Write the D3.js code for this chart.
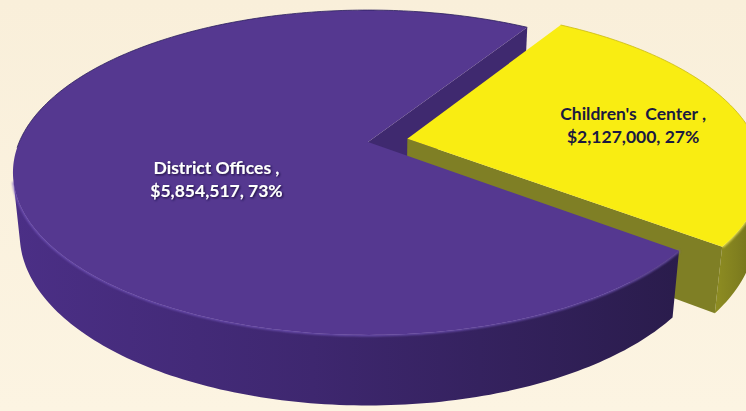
<!DOCTYPE html>
<html>
<head>
<meta charset="utf-8">
<script src="https://cdn.jsdelivr.net/npm/d3@7"></script>
<style>
  html, body { margin: 0; padding: 0; background: #fbf2de; }
  svg { display: block; }
  .lbl { font-family: Lato, "Open Sans", sans-serif; font-weight: 700; font-size: 17.5px; white-space: pre; }
</style>
</head>
<body>
<svg id="chart" width="746" height="411"></svg>
<script>
// ---- data ----
const categories = ["District Offices", "Children's  Center"];
const amounts = [5854517, 2127000];
const exploded = [false, true];

// ---- look ----
const palette = [
  { top: "#553890", sideA: "#4b2f86", sideB: "#2a1c4c", cut: "#3f296f", rim: "#7a5cc2", edge: "#2b1f5c", text: "#ffffff" },
  { top: "#f9ed12", sideA: "#8e8d22", sideB: "#6d6c1a", cut: "#7f7f25", rim: "#fff55e", edge: "#c9b912", text: "#1b1940" }
];
const labelPlacement = [ { r: 0.47, shift: 17.5 }, { r: 0.67, shift: -2 } ];

const W = 746, H = 411;
const svg = d3.select("#chart");

// camera / projection of a flat cylinder (radius 1, thickness `thick`)
const cam = { cx: 368, cy: 142, F: 1660, D: 4.76, elev: 26.7 * Math.PI / 180 };
const thick = 0.2;
const explodeDist = 0.115;
const startRad = -37.9 * Math.PI / 180;
const cosE = Math.cos(cam.elev), sinE = Math.sin(cam.elev);
const eye = [0, -cam.D * cosE, cam.D * sinE];

function project(X, Y, Z) {
  const depth = cam.D + Y * cosE - Z * sinE;
  const up = Y * sinE + Z * cosE;
  return [cam.cx + cam.F * X / depth, cam.cy - cam.F * up / depth];
}

const pie = d3.pie().sort(null).value(d => d);
const arcs = pie(amounts);
const line = d3.line();
const total = d3.sum(amounts);
const fmtMoney = d3.format("$,");
const fmtPct = d3.format(".0%");

// background
const defs = svg.append("defs");
const bg = defs.append("linearGradient").attr("id", "bg").attr("x1", 0).attr("y1", 0).attr("x2", 0).attr("y2", 1);
bg.append("stop").attr("offset", "0%").attr("stop-color", "#f9efda");
bg.append("stop").attr("offset", "100%").attr("stop-color", "#fcf4e2");
svg.append("rect").attr("width", W).attr("height", H).attr("fill", "url(#bg)");

defs.append("filter").attr("id", "soft").attr("x", "-5%").attr("y", "-5%").attr("width", "110%").attr("height", "110%")
  .append("feGaussianBlur").attr("stdDeviation", 1.3);
const sh = defs.append("filter").attr("id", "txtShadow").attr("x", "-10%").attr("y", "-30%").attr("width", "120%").attr("height", "160%");
sh.append("feDropShadow").attr("dx", 1).attr("dy", 1).attr("stdDeviation", 0.9).attr("flood-color", "#120a30").attr("flood-opacity", 0.95);

// build geometry for every slice
const slices = arcs.map((a, i) => {
  const tA = startRad - a.startAngle;   // larger angle end
  const tB = startRad - a.endAngle;     // smaller angle end
  const tm = (tA + tB) / 2;
  const e = exploded[i] ? explodeDist : 0;
  const ox = e * Math.cos(tm), oy = e * Math.sin(tm);
  const n = Math.max(24, Math.round((tA - tB) / (Math.PI * 2) * 360));
  const ts = d3.range(n + 1).map(k => tA + (tB - tA) * k / n);
  const rimTop = ts.map(t => project(ox + Math.cos(t), oy + Math.sin(t), 0));
  const topFace = [project(ox, oy, 0), ...rimTop];

  // outer side: keep only the samples that face the eye
  const visible = ts.filter(t => {
    const px = ox + Math.cos(t), py = oy + Math.sin(t);
    return Math.cos(t) * (eye[0] - px) + Math.sin(t) * (eye[1] - py) > 0;
  });
  let side = null, rimLine = null;
  if (visible.length > 1) {
    const up = visible.map(t => project(ox + Math.cos(t), oy + Math.sin(t), 0));
    const dn = visible.map(t => project(ox + Math.cos(t), oy + Math.sin(t), -thick)).reverse();
    side = up.concat(dn);
    rimLine = up;
  }
  // back part of the rim (outline only)
  const backRim = ts.filter(t => Math.sin(t) > -0.05).map(t => project(ox + Math.cos(t), oy + Math.sin(t), 0));

  // radial cut faces facing the eye
  const cuts = [];
  [[tA, tA + Math.PI / 2], [tB, tB - Math.PI / 2]].forEach(([t, nt]) => {
    const dot = Math.cos(nt) * (eye[0] - ox) + Math.sin(nt) * (eye[1] - oy);
    if (dot > 0) {
      const rx = ox + Math.cos(t), ry = oy + Math.sin(t);
      cuts.push([project(ox, oy, 0), project(rx, ry, 0), project(rx, ry, -thick), project(ox, oy, -thick)]);
    }
  });
  return { i, tm, ox, oy, topFace, side, rimLine, backRim, cuts };
});

// side gradients
slices.forEach(s => {
  if (!s.side) return;
  const xs = s.side.map(p => p[0]);
  const g = defs.append("linearGradient").attr("id", "side" + s.i)
    .attr("gradientUnits", "userSpaceOnUse")
    .attr("x1", d3.min(xs)).attr("y1", 0).attr("x2", d3.max(xs)).attr("y2", 0);
  g.append("stop").attr("offset", "0%").attr("stop-color", palette[s.i].sideA);
  g.append("stop").attr("offset", "45%").attr("stop-color", d3.interpolateRgb(palette[s.i].sideA, palette[s.i].sideB)(0.4));
  g.append("stop").attr("offset", "100%").attr("stop-color", palette[s.i].sideB);
});

const closed = pts => line(pts) + "Z";
const g = svg.append("g");

function drawCuts(s) {
  s.cuts.forEach(c => g.append("path").attr("d", closed(c)).attr("fill", palette[s.i].cut));
}
function drawSide(s) {
  if (!s.side) return;
  g.append("path").attr("d", closed(s.side)).attr("fill", `url(#side${s.i})`);
  g.append("path").attr("d", line(s.rimLine)).attr("fill", "none")
    .attr("stroke", palette[s.i].rim).attr("stroke-width", 2.6).attr("opacity", 0.8).attr("filter", "url(#soft)");
}
function drawTop(s) {
  g.append("path").attr("d", closed(s.topFace)).attr("fill", palette[s.i].top);
  if (s.backRim.length > 1) {
    g.append("path").attr("d", line(s.backRim)).attr("fill", "none")
      .attr("stroke", palette[s.i].edge).attr("stroke-width", 1).attr("opacity", 0.8);
  }
}

const still = slices.filter(s => !exploded[s.i]);
const moved = slices.filter(s => exploded[s.i]);
still.forEach(drawCuts);
moved.forEach(s => { drawSide(s); drawCuts(s); drawTop(s); });
still.forEach(drawSide);
still.forEach(drawTop);

// labels
slices.forEach(s => {
  const lp = labelPlacement[s.i];
  const t = s.tm + lp.shift * Math.PI / 180;
  const [x, y] = project(s.ox + lp.r * Math.cos(t), s.oy + lp.r * Math.sin(t), 0);
  const txt = g.append("text").attr("class", "lbl").attr("text-anchor", "middle")
    .attr("fill", palette[s.i].text);
  if (s.i === 0) txt.attr("filter", "url(#txtShadow)");
  txt.append("tspan").attr("x", x).attr("y", y - 4).text(categories[s.i] + " ,");
  txt.append("tspan").attr("x", x).attr("y", y + 19)
    .text(fmtMoney(amounts[s.i]) + ", " + fmtPct(amounts[s.i] / total));
});
</script>
</body>
</html>
